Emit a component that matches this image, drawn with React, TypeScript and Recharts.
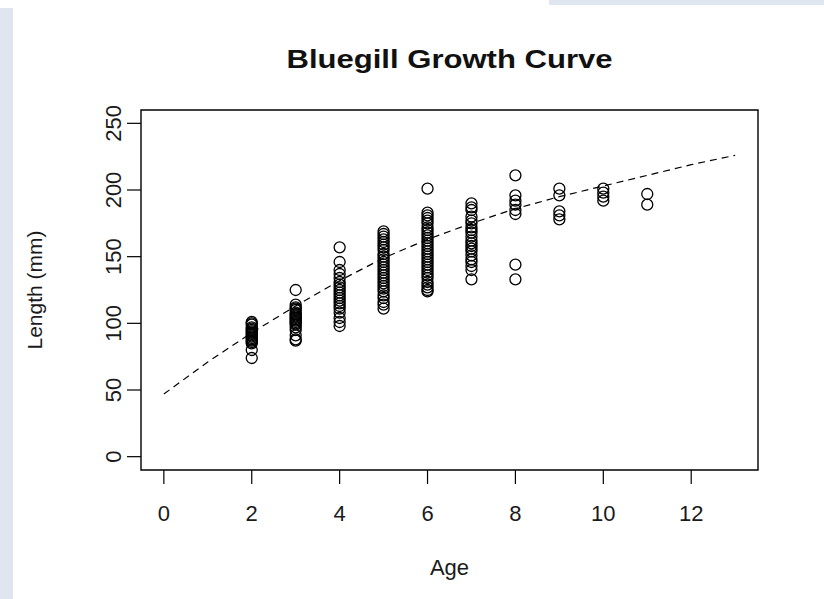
import React from 'react';
import { ScatterChart, Scatter, XAxis, YAxis, ReferenceArea } from 'recharts';

const xTicks = [0, 2, 4, 6, 8, 10, 12];
const yTicks = [0, 50, 100, 150, 200, 250];

const lengthsAge2 = [101, 100, 99, 97, 96, 95, 94, 93, 92, 91, 90, 89, 88, 87, 86, 85, 80, 74];
const lengthsAge3 = [125, 114, 112, 111, 110, 108, 107, 106, 105, 104, 103, 102, 101, 100, 99, 97, 95, 91, 88, 87];
const lengthsAge4 = [157, 146, 140, 137, 134, 131, 129, 127, 125, 123, 121, 119, 117, 115, 113, 111, 108, 104, 101, 98];
const lengthsAge5 = [169, 167, 165, 163, 161, 159, 157, 155, 152, 150, 148, 146, 144, 142, 140, 138, 136, 134, 132, 130, 128, 126, 124, 121, 119, 116, 114, 111];
const lengthsAge6 = [201, 183, 181, 179, 177, 175, 172, 170, 168, 166, 164, 162, 160, 158, 156, 154, 152, 150, 148, 146, 144, 142, 140, 138, 136, 134, 131, 129, 127, 125, 124];
const lengthsAge7 = [190, 187, 185, 180, 177, 175, 172, 170, 168, 165, 162, 160, 158, 156, 154, 151, 148, 146, 143, 140, 133];
const lengthsAge8 = [211, 196, 192, 189, 185, 182, 144, 133];
const lengthsAge9 = [201, 196, 184, 181, 178];
const lengthsAge10 = [201, 198, 195, 192];
const lengthsAge11 = [197, 189];

const ageGroups = [2, 3, 4, 5, 6, 7, 8, 9, 10, 11];
const lengthGroups = [lengthsAge2, lengthsAge3, lengthsAge4, lengthsAge5, lengthsAge6, lengthsAge7, lengthsAge8, lengthsAge9, lengthsAge10, lengthsAge11];

const curveAges = [0, 1, 2, 3, 4, 5, 6, 7, 8, 9, 10, 11, 12, 13];
const curveLengths = [47, 71, 93, 113, 132, 149, 163, 175, 186, 195, 203, 211, 219, 226];

const fishPoints = ageGroups.flatMap((age, i) => lengthGroups[i].map((len) => ({ age, len })));
const curvePoints = curveAges.map((age, i) => ({ age, len: curveLengths[i] }));

const FONT = 'Liberation Sans, Arial, sans-serif';

const Ring = (props: any) => {
  const { cx, cy } = props;
  if (cx == null || cy == null) return <g />;
  return <circle cx={cx} cy={cy} r={5.5} fill="none" stroke="#000" strokeWidth={1.3} />;
};

const XTick = (props: any) => {
  const { x, y, payload } = props;
  return (
    <text x={x} y={y + 37} textAnchor="middle" fontFamily={FONT} fontSize={22} fill="#1a1a1a">
      {payload.value}
    </text>
  );
};

const YTick = (props: any) => {
  const { x, y, payload } = props;
  const bx = x - 6;
  return (
    <text x={bx} y={y} transform={`rotate(-90, ${bx}, ${y})`} textAnchor="middle" fontFamily={FONT} fontSize={22} fill="#1a1a1a">
      {payload.value}
    </text>
  );
};

export default function App() {
  return (
    <div style={{ position: 'absolute', left: 0, top: 0, width: 824, height: 599, background: '#fff', overflow: 'hidden' }}>
      <div style={{ position: 'absolute', left: 0, top: 8, width: 13, height: 591, background: '#dfe6f0' }} />
      <div style={{ position: 'absolute', left: 549, top: 0, width: 275, height: 5, background: '#dfe6f0' }} />
      <div style={{ position: 'absolute', left: 0, top: 0 }}>
        <ScatterChart width={824} height={599} margin={{ top: 110, right: 66, bottom: 49, left: 41 }}>
          <XAxis
            type="number"
            dataKey="age"
            domain={[-0.52, 13.52]}
            ticks={xTicks}
            allowDataOverflow
            axisLine={false}
            tickLine={{ stroke: '#000', strokeWidth: 1.2 }}
            tickSize={14}
            tickMargin={0}
            height={80}
            tick={<XTick />}
            interval={0}
          />
          <YAxis
            type="number"
            dataKey="len"
            domain={[-10, 260]}
            ticks={yTicks}
            allowDataOverflow
            axisLine={false}
            tickLine={{ stroke: '#000', strokeWidth: 1.2 }}
            tickSize={14}
            tickMargin={0}
            width={100}
            tick={<YTick />}
            interval={0}
          />
          <ReferenceArea x1={-0.52} x2={13.52} y1={-10} y2={260} fill="none" fillOpacity={0} stroke="#000" strokeWidth={1.4} ifOverflow="visible" />
          <Scatter data={fishPoints} shape={<Ring />} isAnimationActive={false} />
          <Scatter
            data={curvePoints}
            shape={() => <g />}
            line={{ stroke: '#000', strokeWidth: 1.2, strokeDasharray: '7 5' }}
            lineType="joint"
            isAnimationActive={false}
          />
        </ScatterChart>
      </div>
      <svg width={824} height={599} style={{ position: 'absolute', left: 0, top: 0, pointerEvents: 'none' }}>
        <text x={449.5} y={68} textAnchor="middle" fontFamily={FONT} fontWeight="bold" fontSize={25} fill="#111" textLength={326} lengthAdjust="spacingAndGlyphs">
          Bluegill Growth Curve
        </text>
        <text x={449.5} y={575} textAnchor="middle" fontFamily={FONT} fontSize={22} fill="#1a1a1a">
          Age
        </text>
        <text x={42} y={290} transform="rotate(-90, 42, 290)" textAnchor="middle" fontFamily={FONT} fontSize={21} fill="#1a1a1a">
          Length (mm)
        </text>
      </svg>
    </div>
  );
}
